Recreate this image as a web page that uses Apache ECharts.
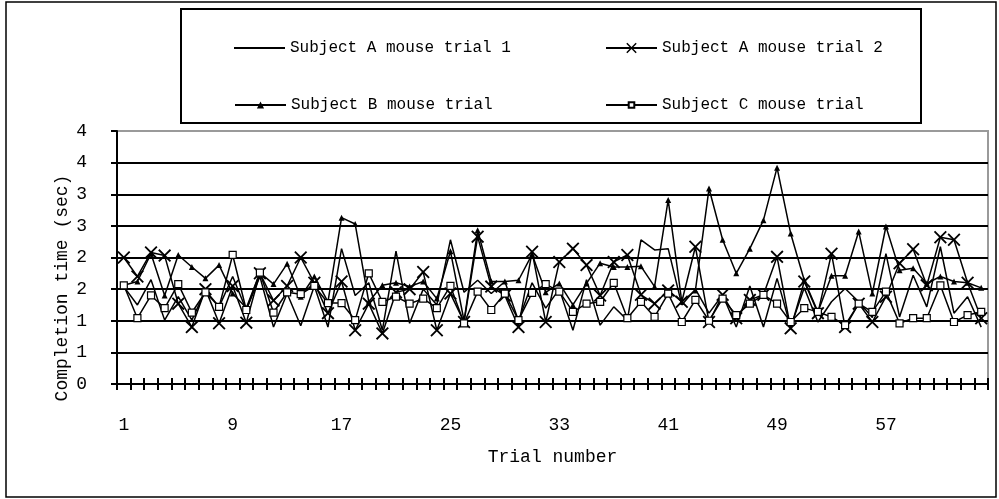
<!DOCTYPE html>
<html>
<head>
<meta charset="utf-8">
<script src="https://cdn.jsdelivr.net/npm/echarts@6/dist/echarts.min.js"></script>
<style>
  html, body { margin: 0; padding: 0; background: #fff; }
  #chart { width: 999px; height: 499px; }
</style>
</head>
<body>
<div id="chart"></div>
<script>
// Trial numbers along the x axis
const trials = [1,2,3,4,5,6,7,8,9,10,11,12,13,14,15,16,17,18,19,20,
  21,22,23,24,25,26,27,28,29,30,31,32,33,34,35,36,37,38,39,40,
  41,42,43,44,45,46,47,48,49,50,51,52,53,54,55,56,57,58,59,60,
  61,62,63,64];

// Completion times (sec) per trial
const subjectA1 = [1.54,1.25,1.65,1.01,1.38,1.01,1.48,1.22,1.70,1.17,
  1.70,0.90,1.43,0.92,1.55,0.90,2.14,1.40,1.60,0.85,
  2.10,0.96,1.50,1.25,2.28,1.45,1.64,1.43,1.62,1.00,
  1.60,1.20,1.50,0.85,1.65,0.93,1.22,1.01,2.28,2.12,
  2.14,1.25,1.50,1.12,1.41,0.90,1.55,0.90,1.67,0.90,
  1.52,0.98,1.30,1.51,1.30,1.05,2.06,1.06,1.72,1.22,
  2.17,1.12,1.38,0.90];

const subjectA2 = [2.00,1.70,2.08,2.03,1.27,0.90,1.50,0.96,1.55,0.97,
  1.75,1.32,1.55,2.00,1.60,1.12,1.62,0.85,1.27,0.80,
  1.45,1.50,1.77,0.85,1.43,0.98,2.33,1.54,1.40,0.90,
  2.09,0.98,1.93,2.14,1.88,1.40,1.93,2.04,1.41,1.27,
  1.48,1.30,2.17,0.98,1.41,1.04,1.33,1.41,2.01,0.88,
  1.62,1.12,2.06,0.90,1.27,0.98,1.38,1.91,2.13,1.56,
  2.32,2.28,1.60,1.04];

const subjectB = [1.56,1.62,2.06,1.40,2.04,1.85,1.67,1.88,1.43,1.20,
  1.76,1.58,1.90,1.38,1.70,1.30,2.63,2.53,1.30,1.56,
  1.60,1.54,1.62,1.35,2.10,1.00,2.43,1.62,1.62,1.64,
  2.05,1.45,1.59,1.25,1.59,1.91,1.85,1.85,1.86,1.54,
  2.91,1.30,1.48,3.09,2.28,1.75,2.14,2.59,3.42,2.38,
  1.64,1.14,1.71,1.71,2.41,1.43,2.49,1.80,1.83,1.59,
  1.70,1.62,1.60,1.52];

const subjectC = [1.56,1.04,1.40,1.20,1.58,1.13,1.45,1.22,2.04,1.17,
  1.76,1.13,1.45,1.42,1.55,1.28,1.28,1.01,1.75,1.30,
  1.38,1.27,1.35,1.20,1.55,0.96,1.46,1.17,1.43,1.01,
  1.44,1.58,1.46,1.14,1.27,1.30,1.60,1.04,1.30,1.06,
  1.43,0.98,1.33,1.00,1.35,1.09,1.27,1.41,1.27,0.98,
  1.20,1.14,1.06,0.93,1.27,1.14,1.46,0.96,1.04,1.04,
  1.56,0.98,1.09,1.14];

// Y tick labels (whole-number format, one per half-second gridline)
const yTickLabels = ['0','1','1','2','2','3','3','4','4'];

const seriesNames = ['Subject A mouse trial 1', 'Subject A mouse trial 2',
  'Subject B mouse trial', 'Subject C mouse trial'];

const FONT = '"Liberation Mono", "DejaVu Sans Mono", monospace';
const crossPath = 'path://M0,1L1,0L5,4L9,0L10,1L6,5L10,9L9,10L5,6L1,10L0,9L4,5Z';

const chart = echarts.init(document.getElementById('chart'), null, { renderer: 'canvas' });

function legendAt(item, left, top, itemHeight) {
  return {
    data: [item], left: left, top: top, orient: 'horizontal',
    itemWidth: 51, itemHeight: itemHeight, selectedMode: false,
    textStyle: { fontFamily: FONT, fontSize: 16, color: '#000' }
  };
}

const option = {
  animation: false,
  backgroundColor: '#fff',
  grid: { left: 117, right: 11, top: 131, bottom: 115, show: true, borderColor: '#9a9a9a', borderWidth: 2 },
  legend: [
    legendAt({ name: seriesNames[0], icon: 'rect' }, 229, 35, 2),
    legendAt(seriesNames[1], 600, 35, 13),
    legendAt(seriesNames[2], 229, 92, 9),
    legendAt(seriesNames[3], 600, 92, 7)
  ],
  xAxis: [
    {
      type: 'category', data: trials, boundaryGap: true, position: 'bottom',
      axisLine: { show: true, lineStyle: { color: '#000', width: 2 } },
      axisTick: { show: true, interval: 0, inside: false, length: 6, lineStyle: { color: '#000', width: 2 } },
      axisLabel: { interval: 7, margin: 32, fontFamily: FONT, fontSize: 18, color: '#000' },
      splitLine: { show: false },
      name: 'Trial number', nameLocation: 'middle', nameGap: 64,
      nameTextStyle: { fontFamily: FONT, fontSize: 18, color: '#000' }
    },
    {
      type: 'category', data: trials, boundaryGap: true, position: 'bottom', offset: 0,
      axisLine: { show: false },
      axisTick: { show: true, interval: 0, inside: true, length: 6, lineStyle: { color: '#000', width: 2 } },
      axisLabel: { show: false },
      splitLine: { show: false }
    }
  ],
  yAxis: {
    type: 'value', min: 0, max: 4, interval: 0.5,
    axisLine: { show: true, lineStyle: { color: '#000', width: 2 } },
    axisTick: { show: true, inside: false, length: 6, lineStyle: { color: '#000', width: 2 } },
    axisLabel: {
      margin: 30, fontFamily: FONT, fontSize: 18, color: '#000', padding: [8, 0, 0, 0],
      formatter: function (v) { return yTickLabels[Math.round(v / 0.5)]; }
    },
    splitLine: { show: true, lineStyle: { color: ['#000','#000','#000','#000','#000','#000','#000','#000','#9a9a9a'], width: 2 } }
  },
  graphic: [
    { type: 'rect', shape: { x: 6, y: 2, width: 990, height: 495 }, style: { fill: 'none', stroke: '#000', lineWidth: 1.5 }, silent: true, z: -1 },
    { type: 'rect', shape: { x: 181, y: 9, width: 740, height: 114 }, style: { fill: 'none', stroke: '#000', lineWidth: 2 }, silent: true },
    { type: 'text', x: 62, y: 288, rotation: Math.PI / 2,
      style: { text: 'Completion time (sec)', font: '18px ' + FONT, fill: '#000', align: 'center', verticalAlign: 'middle' } }
  ],
  series: [
    { name: seriesNames[0], type: 'line', data: subjectA1, symbol: 'none',
      lineStyle: { color: '#000', width: 1.5 }, itemStyle: { color: '#000' } },
    { name: seriesNames[1], type: 'line', data: subjectA2, symbol: crossPath, symbolSize: 13, showAllSymbol: true,
      lineStyle: { color: '#000', width: 1.5 }, itemStyle: { color: '#000', borderWidth: 0 } },
    { name: seriesNames[2], type: 'line', data: subjectB, symbol: 'triangle', symbolSize: 6, showAllSymbol: true,
      lineStyle: { color: '#000', width: 1.5 }, itemStyle: { color: '#000', borderWidth: 0 } },
    { name: seriesNames[3], type: 'line', data: subjectC, symbol: 'rect', symbolSize: 7, showAllSymbol: true,
      lineStyle: { color: '#000', width: 1.5 }, itemStyle: { color: '#fff', borderColor: '#000', borderWidth: 1.2 } }
  ]
};

chart.setOption(option);
</script>
</body>
</html>
